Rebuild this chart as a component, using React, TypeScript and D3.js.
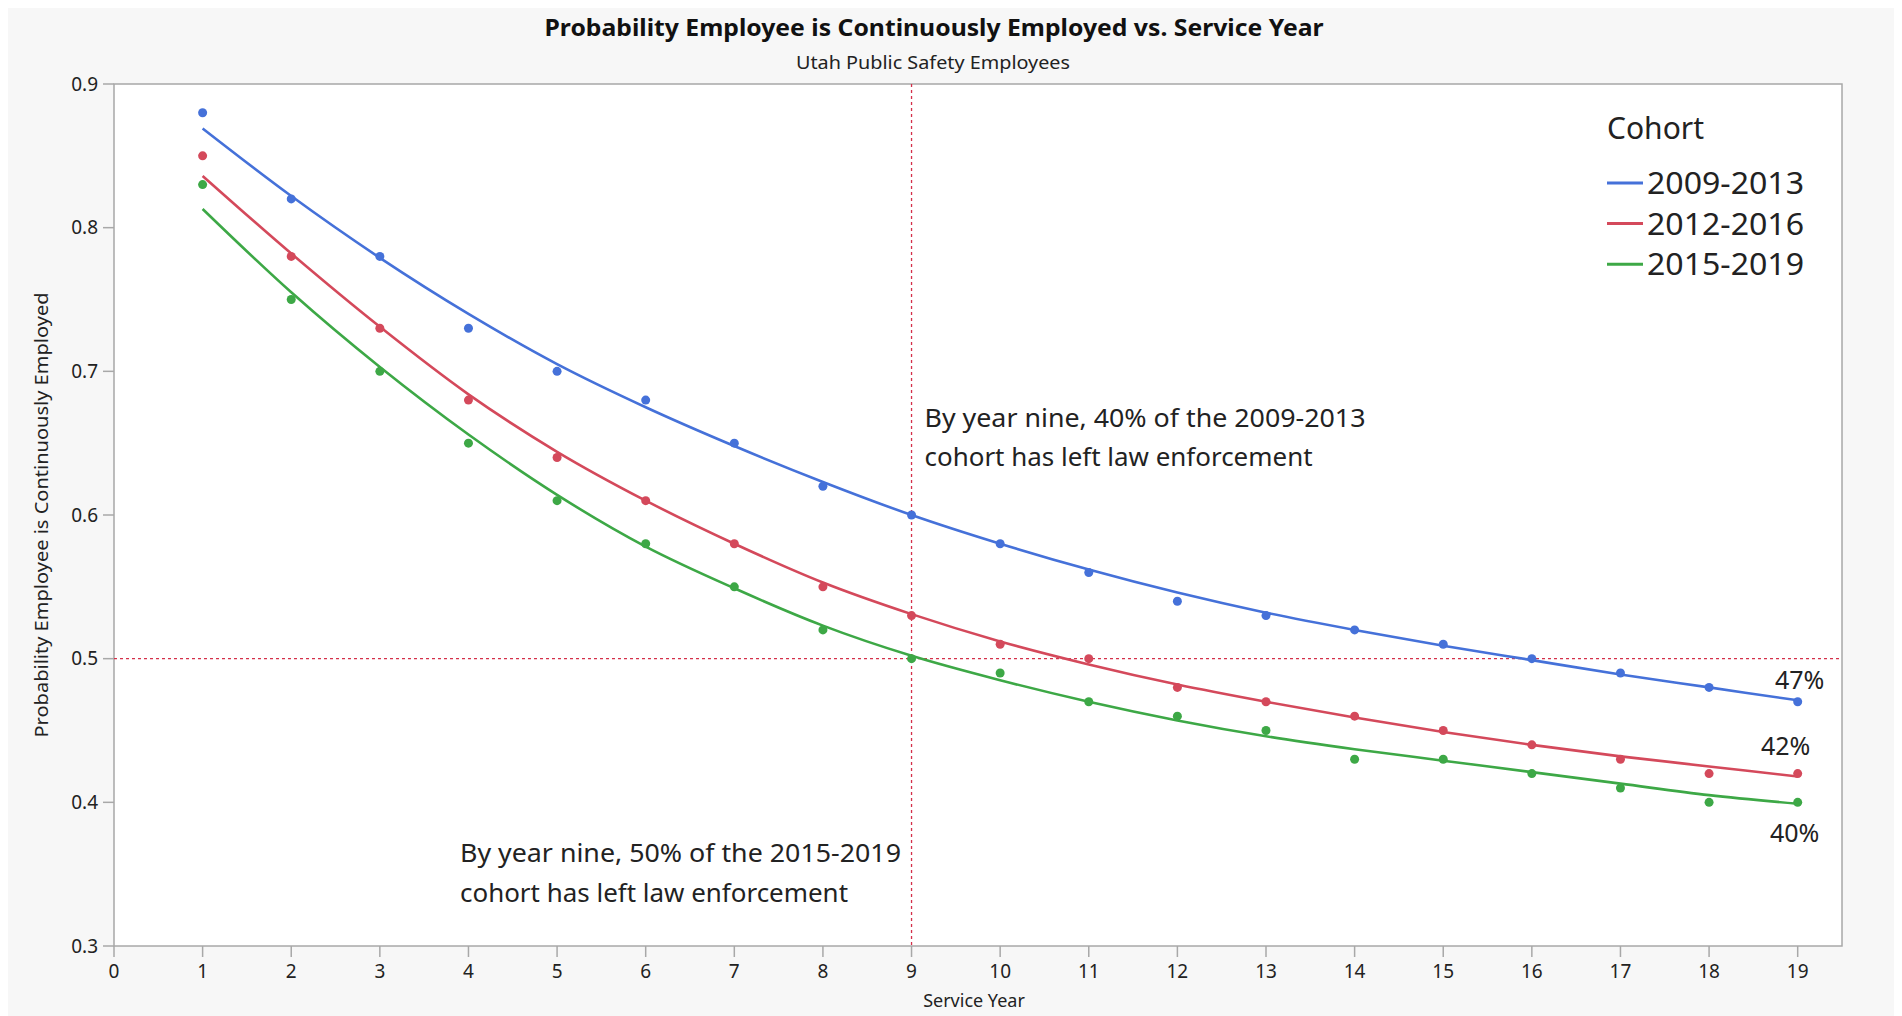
import * as d3 from "d3"

const years = d3.range(1, 20)

const cohorts = ["2009-2013", "2012-2016", "2015-2019"]
const colors = ["#4571d9", "#d4495b", "#3da846"]

// observed points
const observed2009 = [0.88, 0.82, 0.78, 0.73, 0.70, 0.68, 0.65, 0.62, 0.60, 0.58, 0.56, 0.54, 0.53, 0.52, 0.51, 0.50, 0.49, 0.48, 0.47]
const observed2012 = [0.85, 0.78, 0.73, 0.68, 0.64, 0.61, 0.58, 0.55, 0.53, 0.51, 0.50, 0.48, 0.47, 0.46, 0.45, 0.44, 0.43, 0.42, 0.42]
const observed2015 = [0.83, 0.75, 0.70, 0.65, 0.61, 0.58, 0.55, 0.52, 0.50, 0.49, 0.47, 0.46, 0.45, 0.43, 0.43, 0.42, 0.41, 0.40, 0.40]

// fitted curves, read at each service year
const fit2009 = [0.869, 0.822, 0.779, 0.740, 0.705, 0.675, 0.648, 0.623, 0.600, 0.580, 0.562, 0.546, 0.532, 0.520, 0.509, 0.499, 0.489, 0.480, 0.471]
const fit2012 = [0.836, 0.782, 0.731, 0.684, 0.644, 0.610, 0.580, 0.553, 0.531, 0.512, 0.496, 0.482, 0.470, 0.459, 0.449, 0.440, 0.432, 0.425, 0.418]
const fit2015 = [0.813, 0.755, 0.703, 0.656, 0.614, 0.578, 0.549, 0.523, 0.502, 0.485, 0.470, 0.457, 0.446, 0.437, 0.429, 0.421, 0.413, 0.405, 0.399]

const observed = [observed2009, observed2012, observed2015]
const fits = [fit2009, fit2012, fit2015]

const endLabels = ["47%", "42%", "40%"]
const xTicks = d3.range(0, 20)
const yTicks = [0.3, 0.4, 0.5, 0.6, 0.7, 0.8, 0.9]

const W = 1886
const H = 1008
const margin = { top: 76, right: 52, bottom: 70, left: 106 }
const font = "'Segoe UI', 'Noto Sans', 'Open Sans', sans-serif"

export default function App() {
  const x = d3.scaleLinear().domain([0, 19.5]).range([margin.left, W - margin.right])
  const y = d3.scaleLinear().domain([0.3, 0.9]).range([H - margin.bottom, margin.top])
  const x0 = margin.left
  const x1 = W - margin.right
  const y0 = H - margin.bottom
  const y1 = margin.top

  const line = d3.line<number>()
    .x((_, i) => x(years[i]))
    .y(d => y(d))
    .curve(d3.curveCatmullRom.alpha(0.5))

  const endOffsets = [
    { dx: 2, dy: -13 },
    { dx: -12, dy: -19 },
    { dx: -3, dy: 40 },
  ]

  return (
    <svg width={W} height={H} style={{ display: "block", fontFamily: font }}>
      <rect x={0} y={0} width={W} height={H} fill="#f7f7f7" />

      <text x={926} y={28} textAnchor="middle" fontSize={23} fontWeight="bold" fill="#111"
        textLength={779} lengthAdjust="spacingAndGlyphs">
        Probability Employee is Continuously Employed vs. Service Year
      </text>
      <text x={925} y={61} textAnchor="middle" fontSize={18} fill="#222"
        textLength={274} lengthAdjust="spacingAndGlyphs">
        Utah Public Safety Employees
      </text>

      <rect x={x0} y={y1} width={x1 - x0} height={y0 - y1} fill="#fff" stroke="#a8a8a8" strokeWidth={1.5} />

      {/* y axis */}
      {yTicks.map(t => (
        <g key={t}>
          <line x1={x0 - 11} x2={x0} y1={y(t)} y2={y(t)} stroke="#a8a8a8" strokeWidth={1.5} />
          <text x={x0 - 16} y={y(t)} dy="0.35em" textAnchor="end" fontSize={19} fill="#222">{t.toFixed(1)}</text>
        </g>
      ))}
      {/* x axis */}
      {xTicks.map(t => (
        <g key={t}>
          <line x1={x(t)} x2={x(t)} y1={y0} y2={y0 + 11} stroke="#a8a8a8" strokeWidth={1.5} />
          <text x={x(t)} y={y0 + 32} textAnchor="middle" fontSize={19} fill="#222">{t}</text>
        </g>
      ))}
      <text x={(x0 + x1) / 2 - 4} y={y0 + 61} textAnchor="middle" fontSize={18} fill="#222">Service Year</text>
      <text transform={`translate(40,${(y0 + y1) / 2}) rotate(-90)`} textAnchor="middle" fontSize={18} fill="#222"
        textLength={445} lengthAdjust="spacingAndGlyphs">
        Probability Employee is Continuously Employed
      </text>

      {/* reference lines */}
      <line x1={x(9)} x2={x(9)} y1={y1} y2={y0} stroke="#d4304a" strokeWidth={1.3} strokeDasharray="3,3" />
      <line x1={x0} x2={x1} y1={y(0.5)} y2={y(0.5)} stroke="#d4304a" strokeWidth={1.3} strokeDasharray="3,3" />

      {/* fitted curves and points */}
      {cohorts.map((c, k) => (
        <g key={c}>
          <path d={line(fits[k]) ?? ""} fill="none" stroke={colors[k]} strokeWidth={2.6} />
          {observed[k].map((v, i) => (
            <circle key={i} cx={x(years[i])} cy={y(v)} r={4.5} fill={colors[k]} />
          ))}
        </g>
      ))}

      {/* end labels */}
      {cohorts.map((c, k) => (
        <text key={c} x={x(19) + endOffsets[k].dx} y={y(observed[k][18]) + endOffsets[k].dy}
          textAnchor="middle" fontSize={25} fill="#222">{endLabels[k]}</text>
      ))}

      {/* annotations */}
      <g fontSize={25} fill="#222">
        <text x={x(9) + 13} y={419} textLength={441} lengthAdjust="spacingAndGlyphs">By year nine, 40% of the 2009-2013</text>
        <text x={x(9) + 13} y={458} textLength={388} lengthAdjust="spacingAndGlyphs">cohort has left law enforcement</text>
        <text x={452} y={854} textLength={441} lengthAdjust="spacingAndGlyphs">By year nine, 50% of the 2015-2019</text>
        <text x={452} y={894} textLength={388} lengthAdjust="spacingAndGlyphs">cohort has left law enforcement</text>
      </g>

      {/* legend */}
      <g>
        <text x={1599} y={131} fontSize={30} fill="#222">Cohort</text>
        {cohorts.map((c, k) => (
          <g key={c} transform={`translate(1599,${175 + k * 40.6})`}>
            <line x1={0} x2={36} y1={0} y2={0} stroke={colors[k]} strokeWidth={3} />
            <text x={40} y={0} dy="0.36em" fontSize={31} fill="#222" textLength={157} lengthAdjust="spacingAndGlyphs">{c}</text>
          </g>
        ))}
      </g>
    </svg>
  )
}
